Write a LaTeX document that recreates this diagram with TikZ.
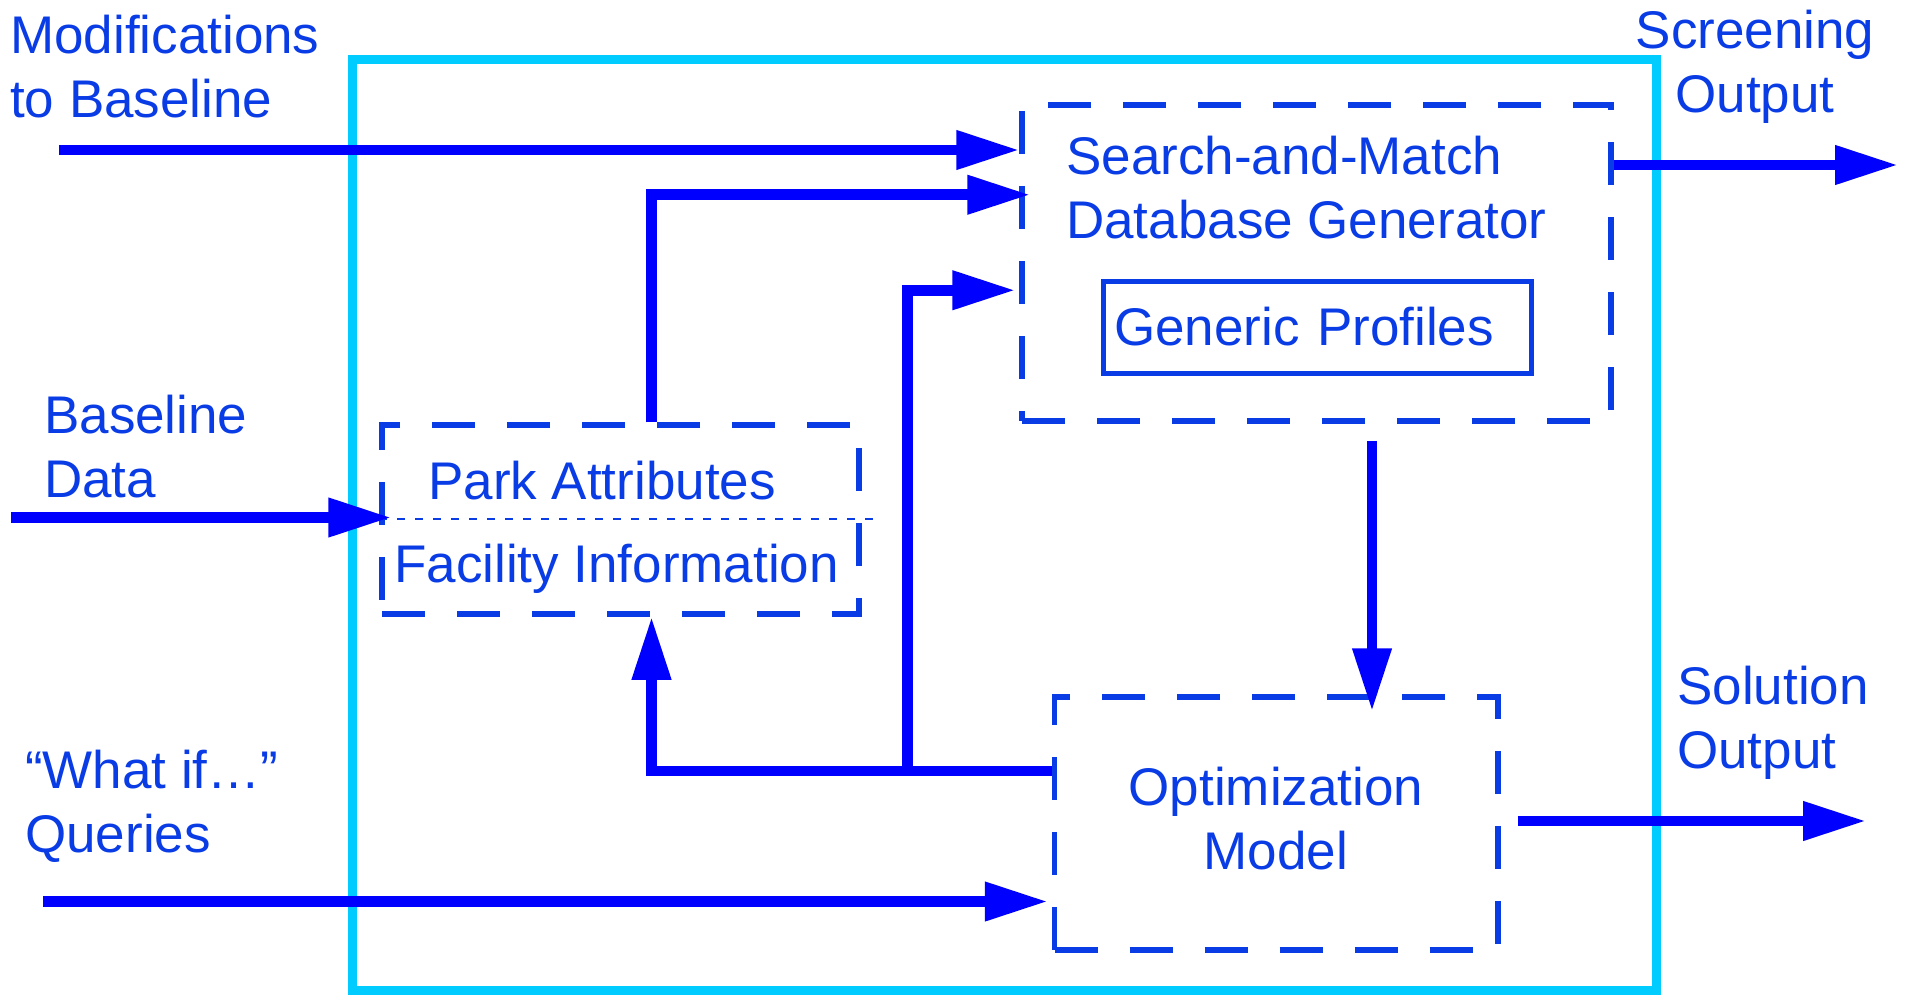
\documentclass[tikz,border=0pt]{standalone}
\usepackage{fontspec}
\setmainfont{Liberation Sans}
\usetikzlibrary{arrows.meta}
\definecolor{txtblue}{RGB}{10,60,230}
\definecolor{arrblue}{RGB}{0,0,255}
\definecolor{sysline}{RGB}{0,204,255}
\begin{document}
\begin{tikzpicture}[x=1pt,y=-1pt,
  lbl/.style={font=\fontsize{53}{64}\selectfont, text=txtblue, inner sep=0pt},
  dbox/.style={draw=txtblue, line width=5.5pt, dash pattern=on 43pt off 32pt, inner sep=0pt},
  arr/.style={draw=arrblue, line width=10.5pt, -{Triangle[length=63pt,width=37pt]}},
]
\useasboundingbox (0,0) rectangle (1908,995);

% outer system box
\node[draw=sysline, line width=9pt, minimum width=1304.5pt, minimum height=930.5pt, inner sep=0pt] (system) at (1004.25,524.75) {};

% dashed boxes
\node[dbox, minimum width=589pt, minimum height=316pt] (search) at (1316.5,263) {};
\node[dbox, minimum width=477pt, minimum height=189pt] (park) at (620.5,519.5) {};
\node[dbox, minimum width=443.5pt, minimum height=253pt] (opt) at (1276.25,823.5) {};

% generic profiles box
\node[lbl, draw=txtblue, line width=5pt, minimum width=428pt, minimum height=92pt,
      text width=406pt, inner xsep=11pt, inner ysep=0pt, align=left] (generic) at (1317,327) {Generic Profiles};

% dotted divider in park box
\coordinate (divend) at (876,519);
\draw[txtblue, line width=2pt, dash pattern=on 8pt off 10pt] (divend -| park.west) -- (divend);

% texts inside boxes (base anchor = last line baseline)
\node[lbl, anchor=base west, align=left] (searchtxt) at (1066,238) {Search-and-Match\\Database Generator};
\node[lbl, anchor=base west] (parktxt) at (428,499) {Park Attributes};
\node[lbl, anchor=base west] (factxt) at (394,582) {Facility Information};
\node[lbl, anchor=base, align=center] (opttxt) at (1276,869) {Optimization\\Model};

% outside labels
\node[lbl, anchor=base west, align=left] (modtxt) at (10,118) {Modifications\\to Baseline};
\node[lbl, anchor=base west, align=left] (bdtxt) at (44,497) {Baseline\\Data};
\node[lbl, anchor=base west, align=left] (wiftxt) at (25,852) {“What if…”\\Queries};
\node[lbl, anchor=base, align=center] (scrtxt) at (1755,113) {Screening\\Output};
\node[lbl, anchor=base west, align=left] (soltxt) at (1677,768) {Solution\\Output};

% input arrows
\coordinate (modin) at (59,150);
\draw[arr] (modin) -- (modin -| search.west);
\coordinate (bdin) at (11,517.5);
\draw[arr] (bdin) -- ([xshift=12pt]bdin -| park.west);
\coordinate (wiin) at (43,901.5);
\draw[arr] (wiin) -- ([xshift=-4pt]wiin -| opt.west);

% park -> search
\draw[arr] ([xshift=31pt]park.north) |- ([xshift=11pt,yshift=-92.5pt]search.north west);

% search -> opt
\draw[arr] ([xshift=55.5pt,yshift=-17pt]search.south) -- ([xshift=55.5pt,yshift=-17pt]search.south |- opt.north);

% feedback from opt
\coordinate (j1) at (907.5,773.5);
\draw[arr] ([yshift=-76.5pt]opt.north west) -| ([xshift=31pt]park.south);
\draw[arr] (j1) |- ([xshift=-4pt,yshift=-188pt]search.north west);

% outputs
\coordinate (scrout) at (1898,165);
\draw[arr] (scrout -| search.east) -- (scrout);
\coordinate (solout) at (1866,821);
\draw[arr] ([xshift=17pt]solout -| opt.east) -- (solout);
\end{tikzpicture}
\end{document}
